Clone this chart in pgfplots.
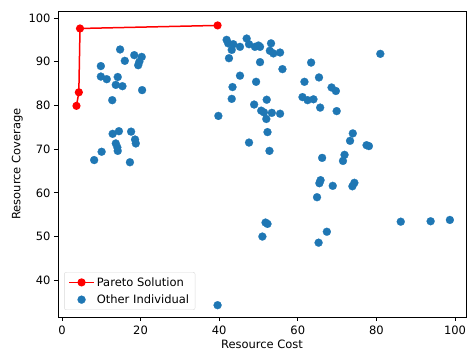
\documentclass[border=0pt]{standalone}
\usepackage{fontspec}
\setmainfont{DejaVu Sans}
\usepackage{pgfplots}
\pgfplotsset{compat=1.18}
\definecolor{mplblue}{HTML}{1F77B4}

\begin{document}
\begin{tikzpicture}
\begin{axis}[
  scale only axis,
  width=408pt, height=306pt,
  xmin=-1, xmax=102.8,
  ymin=31.6, ymax=101.6,
  xtick={0,20,40,60,80,100},
  ytick={40,50,60,70,80,90,100},
  tick align=outside,
  xtick pos=bottom, ytick pos=left,
  major tick length=4pt,
  every tick/.style={black, line width=0.7pt},
  axis line style={line width=0.7pt},
  tick label style={font=\fontsize{11.5}{13}\selectfont},
  xticklabel style={yshift=-1pt},
  label style={font=\fontsize{11.5}{13}\selectfont},
  /pgf/number format/assume math mode=true,
  xlabel={Resource Cost},
  ylabel={Resource Coverage},
  xlabel style={yshift=1.5pt},
  ylabel style={yshift=-1pt},
  legend cell align=left,
  legend style={draw=black!15, rounded corners=2pt, font=\fontsize{11.5}{13}\selectfont,
    at={(0.015,0.023)}, anchor=south west, inner xsep=4pt, inner ysep=3pt,
    row sep=3pt},
]
% non-dominated front
\addplot[red, line width=1.5pt, mark=*, mark size=3.3pt, mark options={fill=red, draw=red},
  legend image code/.code={%
    \draw[red, line width=1.5pt] (0pt,0pt) -- (25pt,0pt);
    \fill[red] (12.5pt,0pt) circle[radius=3.3pt];}]
  coordinates {(3.7,79.9) (4.3,83.0) (4.6,97.6) (39.6,98.3)};
\addlegendentry{Pareto Solution}

% remaining individuals of the population
\addplot[only marks, mark=*, mark size=4pt, mark options={draw=mplblue, fill=mplblue, line width=0.2pt},
  legend image code/.code={\draw plot coordinates {(12.5pt,0pt)};}]
  table[row sep=\\]{
x y\\
14.8 92.8\\ 18.4 91.5\\ 20.3 91.1\\ 16.0 90.2\\ 19.4 89.2\\
19.7 90.0\\ 9.9 89.0\\ 9.9 86.6\\ 11.4 86.0\\ 14.2 86.5\\
13.7 84.7\\ 15.4 84.4\\ 20.4 83.5\\ 12.8 81.2\\ 12.9 73.5\\
14.5 74.1\\ 17.6 74.0\\ 18.6 72.2\\ 18.8 71.3\\ 13.7 71.3\\
14.1 70.4\\ 14.2 69.6\\ 10.1 69.4\\ 8.2 67.5\\ 17.3 67.0\\
41.9 95.0\\ 42.3 94.2\\ 43.6 94.0\\ 43.2 92.7\\ 42.5 90.8\\
45.3 93.4\\ 47.0 95.3\\ 47.6 94.0\\ 49.1 93.4\\ 50.0 93.7\\
50.4 93.4\\ 53.2 94.2\\ 52.9 92.5\\ 53.8 91.9\\ 55.5 92.1\\
50.4 89.9\\ 56.1 88.3\\ 45.3 86.8\\ 49.4 85.4\\ 43.4 84.2\\
43.2 81.5\\ 48.9 80.2\\ 52.1 81.3\\ 50.7 78.8\\ 51.4 78.4\\
53.4 78.3\\ 55.5 78.1\\ 52.0 76.9\\ 52.3 73.9\\ 47.6 71.5\\
52.8 69.6\\ 39.8 77.6\\ 39.6 34.3\\ 51.8 53.2\\ 52.3 52.9\\
51.0 50.0\\
81.0 91.8\\ 63.4 89.8\\ 65.4 86.4\\ 61.7 85.4\\ 68.6 84.1\\
69.7 83.3\\ 61.2 81.9\\ 62.5 81.2\\ 64.0 81.4\\ 65.7 79.5\\
69.9 78.7\\ 74.0 73.6\\ 73.3 71.9\\ 77.5 70.9\\ 78.1 70.7\\
66.2 68.0\\ 71.9 68.7\\ 71.5 67.3\\ 65.8 62.9\\ 65.5 62.2\\
68.9 61.6\\ 74.4 62.3\\ 73.9 61.5\\ 64.9 59.0\\ 67.4 51.1\\
65.3 48.6\\ 86.2 53.4\\ 93.8 53.5\\ 98.7 53.8\\
};
\addlegendentry{Other Individual}
\end{axis}
\pgfresetboundingbox
\path[use as bounding box] ([xshift=-58pt,yshift=-34pt]current axis.south west)
  rectangle ([xshift=3pt,yshift=11pt]current axis.north east);
\end{tikzpicture}
\end{document}
